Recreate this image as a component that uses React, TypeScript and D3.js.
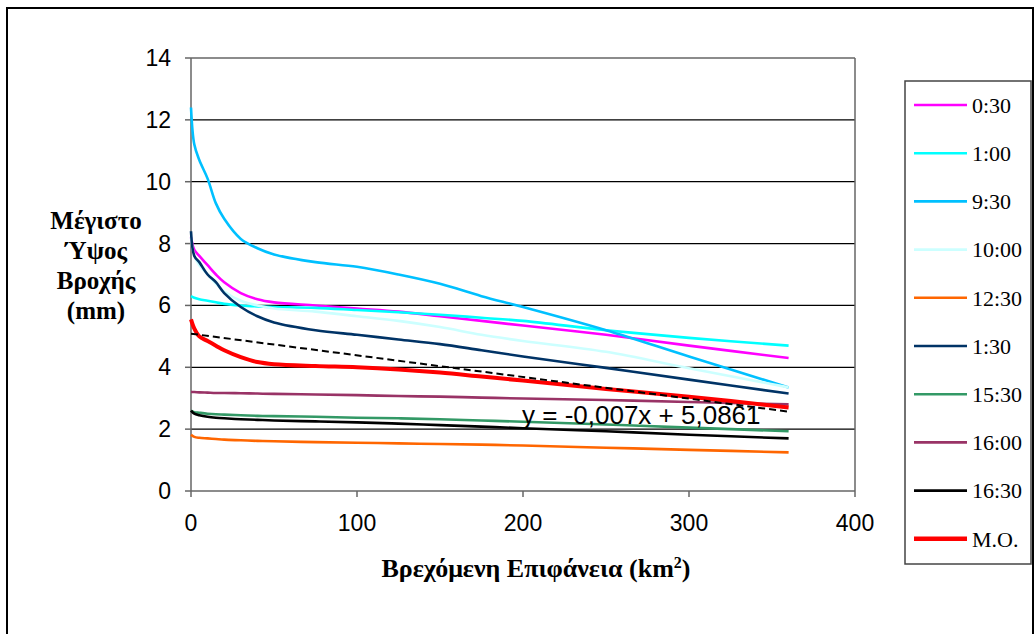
import React from "react";
import * as d3 from "d3";

const xValues = [0, 2, 5, 10, 15, 20, 30, 40, 50, 75, 100, 125, 150, 175, 200, 250, 300, 360];

const seriesNames = ["0:30", "1:00", "9:30", "10:00", "12:30", "1:30", "15:30", "16:00", "16:30", "M.O."];
const seriesColors = ["#FF00FF", "#00FFFF", "#00C0FF", "#CCFFFF", "#FF6600", "#003366", "#339966", "#993366", "#000000", "#FF0000"];

const s0030 = [8.2, 7.8, 7.6, 7.3, 7.0, 6.75, 6.4, 6.2, 6.1, 6.0, 5.9, 5.8, 5.65, 5.5, 5.35, 5.05, 4.7, 4.3];
const s0100 = [6.3, 6.25, 6.2, 6.15, 6.1, 6.05, 6.0, 5.97, 5.95, 5.92, 5.85, 5.78, 5.7, 5.6, 5.5, 5.2, 4.95, 4.7];
const s0930 = [12.4, 11.2, 10.7, 10.1, 9.3, 8.8, 8.15, 7.85, 7.65, 7.4, 7.25, 7.0, 6.7, 6.3, 5.95, 5.2, 4.35, 3.35];
const s1000 = [8.2, 7.6, 7.3, 7.0, 6.7, 6.45, 6.15, 6.0, 5.9, 5.8, 5.65, 5.5, 5.3, 5.05, 4.85, 4.5, 3.97, 3.35];
const s1230 = [1.82, 1.75, 1.72, 1.7, 1.68, 1.66, 1.64, 1.62, 1.61, 1.58, 1.56, 1.54, 1.52, 1.5, 1.47, 1.4, 1.33, 1.25];
const s0130 = [8.4, 7.6, 7.4, 7.0, 6.75, 6.4, 5.95, 5.65, 5.45, 5.2, 5.05, 4.9, 4.75, 4.55, 4.35, 3.98, 3.6, 3.15];
const s1530 = [2.6, 2.55, 2.53, 2.5, 2.48, 2.47, 2.45, 2.43, 2.42, 2.4, 2.37, 2.35, 2.32, 2.28, 2.24, 2.15, 2.05, 1.93];
const s1600 = [3.2, 3.2, 3.19, 3.18, 3.17, 3.17, 3.16, 3.15, 3.14, 3.12, 3.1, 3.07, 3.05, 3.02, 2.99, 2.94, 2.88, 2.8];
const s1630 = [2.6, 2.5, 2.45, 2.4, 2.37, 2.35, 2.32, 2.3, 2.28, 2.25, 2.22, 2.18, 2.13, 2.08, 2.03, 1.93, 1.82, 1.7];
const sMO = [5.55, 5.25, 5.0, 4.85, 4.7, 4.55, 4.33, 4.17, 4.1, 4.04, 4.0, 3.93, 3.83, 3.7, 3.57, 3.3, 3.05, 2.7];

const seriesValues = [s0030, s0100, s0930, s1000, s1230, s0130, s1530, s1600, s1630, sMO];

const trendSlope = -0.007;
const trendIntercept = 5.0861;
const trendRange = [0, 360];
const trendLabel = "y = -0,007x + 5,0861";

const xTicks = [0, 100, 200, 300, 400];
const yTicks = [0, 2, 4, 6, 8, 10, 12, 14];
const yTitleLines = ["Μέγιστο", "Ύψος", "Βροχής", "(mm)"];

export default function App() {
  const W = 1036, H = 634;
  const left = 191, right = 855, top = 58, bottom = 491;
  const x = d3.scaleLinear().domain([0, 400]).range([left, right]);
  const y = d3.scaleLinear().domain([0, 14]).range([bottom, top]);
  const line = d3
    .line<number>()
    .x((_, i) => x(xValues[i]))
    .y((d) => y(d))
    .curve(d3.curveCatmullRom.alpha(0.5));

  const legendX = 905, legendY = 81, legendW = 126, legendH = 483;
  const rowH = 48.2;

  return (
    <div>
      <style>{`body{margin:0}`}</style>
      <svg width={W} height={H} style={{ display: "block" }}>
        <rect x={0} y={0} width={W} height={H} fill="#fff" />
        <rect x={7} y={8} width={1026} height={640} fill="none" stroke="#000" strokeWidth={2} />
        {yTicks.filter((t) => t > 0 && t < 14).map((t) => (
          <line key={t} x1={left} x2={right} y1={y(t)} y2={y(t)} stroke="#000" strokeWidth={1.2} />
        ))}
        <line x1={left} x2={right} y1={y(14)} y2={y(14)} stroke="#666" strokeWidth={1.5} />
        <line x1={right} x2={right} y1={top} y2={bottom} stroke="#666" strokeWidth={1.5} />
        <line x1={left} x2={left} y1={top} y2={bottom} stroke="#666" strokeWidth={1.5} />
        <line x1={left} x2={right} y1={bottom} y2={bottom} stroke="#666" strokeWidth={1.5} />
        {yTicks.map((t) => (
          <g key={t}>
            <line x1={left - 6} x2={left} y1={y(t)} y2={y(t)} stroke="#666" strokeWidth={1.5} />
            <text x={left - 20} y={y(t)} dy="0.35em" textAnchor="end" fontFamily="Liberation Sans, Arial" fontSize={23} fill="#000">
              {t}
            </text>
          </g>
        ))}
        {xTicks.map((t) => (
          <g key={t}>
            <line x1={x(t)} x2={x(t)} y1={bottom} y2={bottom + 6} stroke="#666" strokeWidth={1.5} />
            <text x={x(t)} y={bottom + 32} dy="0.35em" textAnchor="middle" fontFamily="Liberation Sans, Arial" fontSize={23} fill="#000">
              {t}
            </text>
          </g>
        ))}
        {seriesValues.map((vals, i) => (
          <path
            key={seriesNames[i]}
            d={line(vals) || ""}
            fill="none"
            stroke={seriesColors[i]}
            strokeWidth={seriesNames[i] === "M.O." ? 4 : 2.6}
            strokeLinejoin="round"
          />
        ))}
        <line
          x1={x(trendRange[0])}
          x2={x(trendRange[1])}
          y1={y(trendSlope * trendRange[0] + trendIntercept)}
          y2={y(trendSlope * trendRange[1] + trendIntercept)}
          stroke="#000"
          strokeWidth={2}
          strokeDasharray="7,4"
        />
        <text x={522} y={424} fontFamily="Liberation Sans, Arial" fontSize={26} fill="#000">
          {trendLabel}
        </text>
        <text x={96} fontFamily="Liberation Serif, Times New Roman" fontWeight="bold" fontSize={25} textAnchor="middle" fill="#000">
          {yTitleLines.map((l, i) => (
            <tspan key={i} x={96} y={229 + i * 30}>
              {l}
            </tspan>
          ))}
        </text>
        <text x={536} y={577} textAnchor="middle" fontFamily="Liberation Serif, Times New Roman" fontWeight="bold" fontSize={26} fill="#000">
          Βρεχόμενη Επιφάνεια (km<tspan dy={-9} fontSize={16}>2</tspan>
          <tspan dy={9}>)</tspan>
        </text>
        <rect x={legendX} y={legendY} width={legendW} height={legendH} fill="#fff" stroke="#444" strokeWidth={1.5} />
        {seriesNames.map((n, i) => {
          const cy = 105 + i * rowH;
          return (
            <g key={n}>
              <line x1={914} x2={967} y1={cy} y2={cy} stroke={seriesColors[i]} strokeWidth={n === "M.O." ? 4.5 : 2.6} />
              <text x={972} y={cy} dy="0.35em" fontFamily="Liberation Serif, Times New Roman" fontSize={22} fill="#000">
                {n}
              </text>
            </g>
          );
        })}
      </svg>
    </div>
  );
}
